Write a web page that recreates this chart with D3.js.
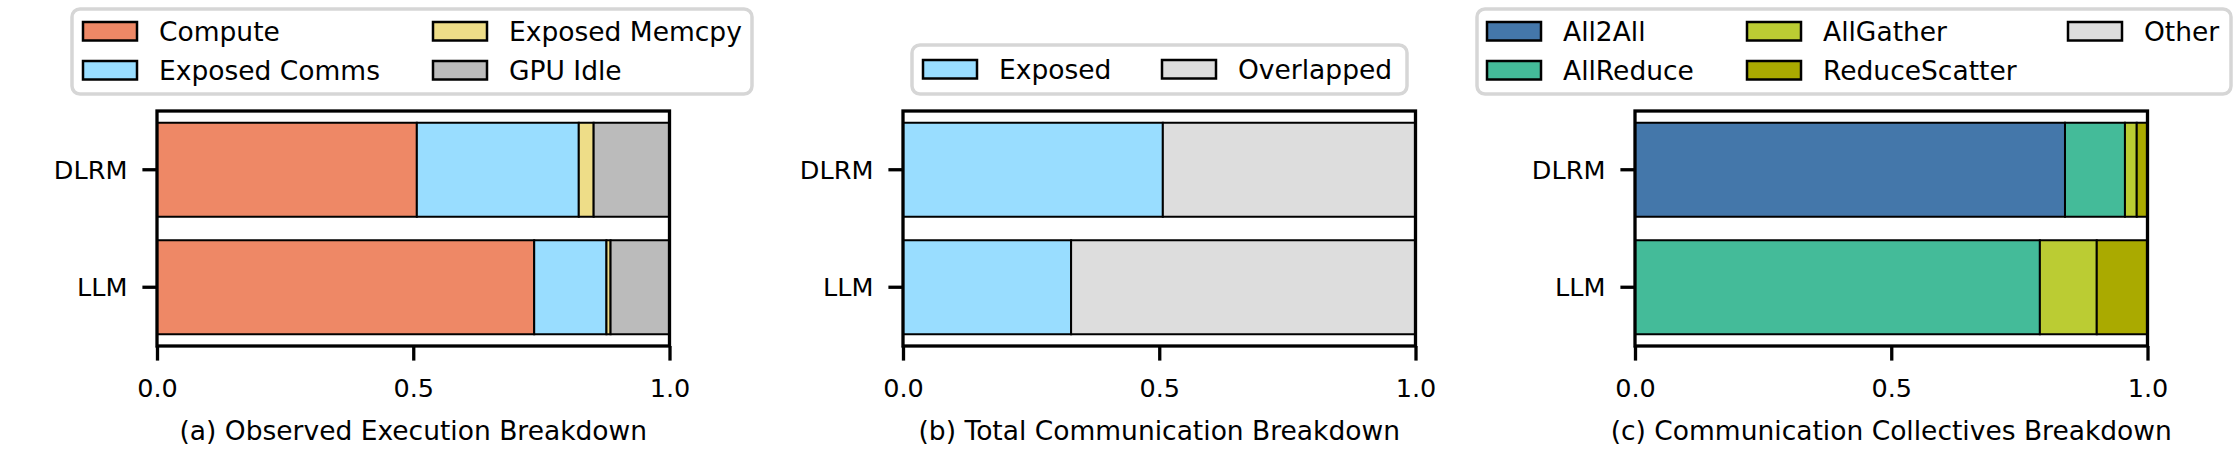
<!DOCTYPE html>
<html lang="en">
<head>
<meta charset="utf-8" />
<title>Breakdown charts</title>
<script src="https://cdn.jsdelivr.net/npm/d3@7/dist/d3.min.js"></script>
<style>
  body { margin: 0; background: #fff; }
  svg { font-family: "DejaVu Sans", sans-serif; }
</style>
</head>
<body>
<svg width="2240" height="453"></svg>
<script>
// data
var categories = ["DLRM", "LLM"];
var xTicks = [0, 0.5, 1.0];

// (a) observed execution breakdown
var execSeries = ["Compute", "Exposed Comms", "Exposed Memcpy", "GPU Idle"];
var execColors = ["#EE8866", "#99DDFF", "#EEDD88", "#BBBBBB"];
var compute = [0.507, 0.736];
var exposedComms = [0.316, 0.141];
var exposedMemcpy = [0.029, 0.008];
var gpuIdle = [0.148, 0.115];

// (b) total communication breakdown
var commSeries = ["Exposed", "Overlapped"];
var commColors = ["#99DDFF", "#DDDDDD"];
var exposed = [0.507, 0.328];
var overlapped = [0.493, 0.672];

// (c) communication collectives breakdown
var collSeries = ["All2All", "AllReduce", "AllGather", "ReduceScatter", "Other"];
var collColors = ["#4477AA", "#44BB99", "#BBCC33", "#AAAA00", "#DDDDDD"];
var all2all = [0.839, 0.0];
var allReduce = [0.117, 0.790];
var allGather = [0.023, 0.111];
var reduceScatter = [0.021, 0.099];
var other = [0.0, 0.0];

var titles = ["(a) Observed Execution Breakdown", "(b) Total Communication Breakdown", "(c) Communication Collectives Breakdown"];

function rows(seriesNames, cols) {
  return categories.map(function (c, i) {
    var r = { cat: c };
    seriesNames.forEach(function (s, j) { r[s] = cols[j][i]; });
    return r;
  });
}

var svg = d3.select("svg");
var plotTop = 111, plotBottom = 346, pw = 512.5;
var tickLen = 14.6, fs = 25.5;

function panel(left, seriesNames, colors, table, title, legend) {
  var x = d3.scaleLinear().domain([0, 1]).range([left, left + pw]);
  var y = d3.scaleBand().domain(categories).range([plotTop, plotBottom]).paddingInner(0.2).paddingOuter(0.1);
  var color = d3.scaleOrdinal().domain(seriesNames).range(colors);
  var stacked = d3.stack().keys(seriesNames)(table);

  var g = svg.append("g");
  g.selectAll("g.layer").data(stacked).join("g")
    .attr("class", "layer")
    .attr("fill", function (d) { return color(d.key); })
    .selectAll("rect").data(function (d) { return d; }).join("rect")
    .attr("x", function (d) { return x(d[0]); })
    .attr("y", function (d) { return y(d.data.cat); })
    .attr("width", function (d) { return x(d[1]) - x(d[0]); })
    .attr("height", y.bandwidth())
    .attr("stroke", "#000").attr("stroke-width", 2)
    .style("display", function (d) { return d[1] - d[0] > 0 ? null : "none"; });

  // frame
  g.append("rect").attr("x", left).attr("y", plotTop).attr("width", pw).attr("height", plotBottom - plotTop)
    .attr("fill", "none").attr("stroke", "#000").attr("stroke-width", 3.3);

  var xAxis = g.append("g").attr("transform", "translate(0," + plotBottom + ")")
    .call(d3.axisBottom(x).tickValues(xTicks).tickFormat(d3.format(".1f")).tickSize(tickLen).tickPadding(18));
  var yAxis = g.append("g").attr("transform", "translate(" + left + ",0)")
    .call(d3.axisLeft(y).tickSize(tickLen).tickPadding(15));
  [xAxis, yAxis].forEach(function (a) {
    a.select(".domain").remove();
    a.selectAll("line").attr("stroke", "#000").attr("stroke-width", 3.3);
    a.selectAll("text").attr("font-size", fs).attr("font-family", "DejaVu Sans").attr("fill", "#000");
  });
  xAxis.selectAll("text").attr("dy", "0.72em");
  yAxis.selectAll("text").attr("dy", "0.36em");

  g.append("text").attr("x", left + pw / 2).attr("y", 440).attr("text-anchor", "middle")
    .attr("font-size", 26.5).text(title);

  // legend
  var lg = svg.append("g");
  lg.append("rect").attr("x", legend.box[0]).attr("y", legend.box[1])
    .attr("width", legend.box[2] - legend.box[0]).attr("height", legend.box[3] - legend.box[1])
    .attr("rx", 8).attr("fill", "#fff").attr("stroke", "#d6d6d6").attr("stroke-width", 3.5);
  seriesNames.forEach(function (s, i) {
    var col = Math.floor(i / legend.rows.length), row = i % legend.rows.length;
    var px = legend.cols[col], cy = legend.rows[row];
    lg.append("rect").attr("x", px).attr("y", cy - 9).attr("width", 54).attr("height", 18.5)
      .attr("fill", color(s)).attr("stroke", "#000").attr("stroke-width", 2.5);
    lg.append("text").attr("x", px + 76).attr("y", cy).attr("dy", "0.36em")
      .attr("font-size", 26.5).text(s);
  });
}

panel(157, execSeries, execColors,
  rows(execSeries, [compute, exposedComms, exposedMemcpy, gpuIdle]), titles[0],
  { box: [72, 9, 752, 94], cols: [83, 433], rows: [31, 70] });
panel(903, commSeries, commColors,
  rows(commSeries, [exposed, overlapped]), titles[1],
  { box: [912, 45, 1407, 94], cols: [923, 1162], rows: [69] });
panel(1635, collSeries, collColors,
  rows(collSeries, [all2all, allReduce, allGather, reduceScatter, other]), titles[2],
  { box: [1477, 9, 2231, 94], cols: [1487, 1747, 2068], rows: [31, 70] });
</script>
</body>
</html>
